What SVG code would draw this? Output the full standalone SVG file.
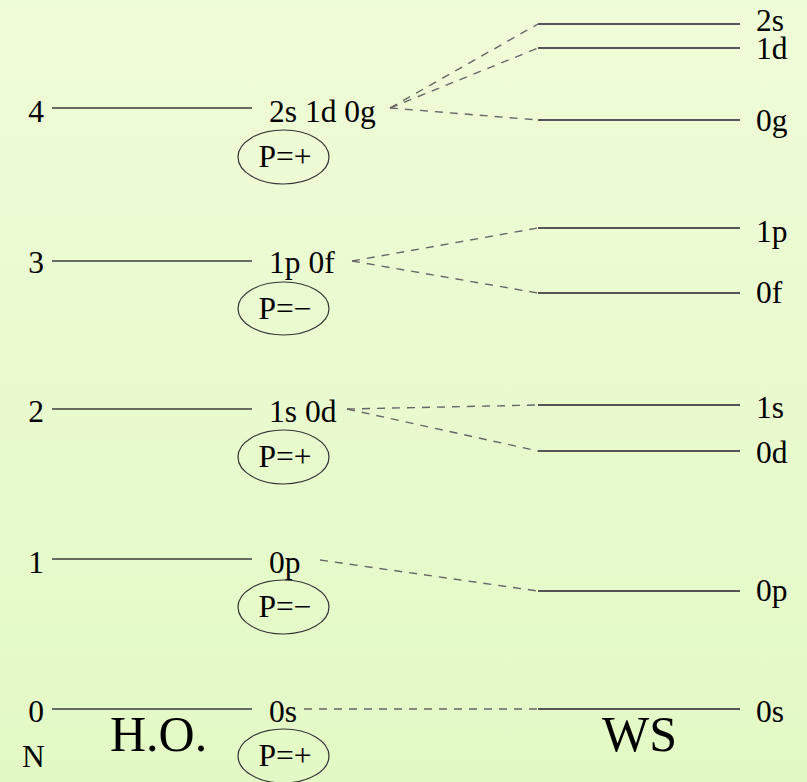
<svg xmlns="http://www.w3.org/2000/svg" width="807" height="782" viewBox="0 0 807 782">
<defs>
<linearGradient id="bg" x1="0" y1="0" x2="0" y2="1">
<stop offset="0" stop-color="#effcd8"/>
<stop offset="1" stop-color="#e3f9c5"/>
</linearGradient>
<style>
text{font-family:"Liberation Serif","Times New Roman",serif;font-size:31.5px;fill:#000}
.big{font-size:50px}
.ho{stroke:#3a3a3a;stroke-width:1.4;fill:none}
.ws{stroke:#555;stroke-width:1.8;fill:none}
.dash{stroke:#666;stroke-width:1.4;stroke-dasharray:8 7;fill:none}
.par{fill:none;stroke:#333;stroke-width:1.2}
.num{text-anchor:end}
.mid{text-anchor:middle}
</style>
</defs>
<rect width="807" height="782" fill="url(#bg)"/>
<g id="connectors">
<line class="dash" x1="390" y1="108" x2="538" y2="24"/>
<line class="dash" x1="390" y1="108" x2="538" y2="48"/>
<line class="dash" x1="390" y1="108" x2="538" y2="120"/>
<line class="dash" x1="352" y1="261" x2="538" y2="228"/>
<line class="dash" x1="352" y1="261" x2="538" y2="293"/>
<line class="dash" x1="347" y1="409" x2="538" y2="405"/>
<line class="dash" x1="347" y1="409" x2="538" y2="451"/>
<line class="dash" x1="320" y1="560" x2="538" y2="591"/>
<line class="dash" x1="304" y1="709" x2="538" y2="709"/>
</g>
<g id="ho-4">
<text class="num" x="44" y="122">4</text>
<line class="ho" x1="52" y1="108" x2="252" y2="108"/>
<text x="269" y="122">2s 1d 0g</text>
<ellipse class="par" cx="283.5" cy="157" rx="45.5" ry="27"/>
<text class="mid" x="285" y="167">P=+</text>
</g>
<g id="ho-3">
<text class="num" x="44" y="273">3</text>
<line class="ho" x1="52" y1="261" x2="252" y2="261"/>
<text x="269" y="273">1p 0f</text>
<ellipse class="par" cx="283.5" cy="308.5" rx="45.5" ry="26.5"/>
<text class="mid" x="285" y="318.5">P=−</text>
</g>
<g id="ho-2">
<text class="num" x="44" y="422">2</text>
<line class="ho" x1="52" y1="409" x2="252" y2="409"/>
<text x="269" y="422">1s 0d</text>
<ellipse class="par" cx="283.5" cy="457" rx="45.5" ry="27"/>
<text class="mid" x="285" y="467">P=+</text>
</g>
<g id="ho-1">
<text class="num" x="44" y="573">1</text>
<line class="ho" x1="52" y1="559" x2="252" y2="559"/>
<text x="269" y="573">0p</text>
<ellipse class="par" cx="283.5" cy="607" rx="45.5" ry="27"/>
<text class="mid" x="285" y="617">P=−</text>
</g>
<g id="ho-0">
<text class="num" x="44" y="722">0</text>
<line class="ho" x1="52" y1="709" x2="252" y2="709"/>
<text x="269" y="722">0s</text>
<ellipse class="par" cx="283.5" cy="756" rx="45.5" ry="27"/>
<text class="mid" x="285" y="766">P=+</text>
</g>
<g id="axis-labels">
<text x="22" y="767">N</text>
<text class="big" x="110" y="751">H.O.</text>
<text class="big" x="602" y="751">WS</text>
</g>
<g id="ws-2s"><line class="ws" x1="538" y1="24" x2="740" y2="24"/><text x="756" y="31">2s</text></g>
<g id="ws-1d"><line class="ws" x1="538" y1="48" x2="740" y2="48"/><text x="756" y="59">1d</text></g>
<g id="ws-0g"><line class="ws" x1="538" y1="120" x2="740" y2="120"/><text x="756" y="131">0g</text></g>
<g id="ws-1p"><line class="ws" x1="538" y1="228" x2="740" y2="228"/><text x="756" y="242">1p</text></g>
<g id="ws-0f"><line class="ws" x1="538" y1="293" x2="740" y2="293"/><text x="756" y="303">0f</text></g>
<g id="ws-1s"><line class="ws" x1="538" y1="405" x2="740" y2="405"/><text x="756" y="418">1s</text></g>
<g id="ws-0d"><line class="ws" x1="538" y1="451" x2="740" y2="451"/><text x="756" y="463">0d</text></g>
<g id="ws-0p"><line class="ws" x1="538" y1="591" x2="740" y2="591"/><text x="756" y="601">0p</text></g>
<g id="ws-0s"><line class="ws" x1="538" y1="709" x2="740" y2="709"/><text x="756" y="722">0s</text></g>
</svg>
